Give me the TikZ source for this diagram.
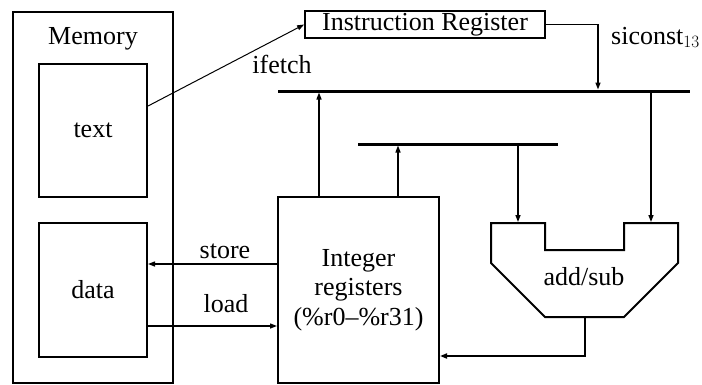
\documentclass[tikz,border=0pt]{standalone}
\usepackage{fontspec}
\setmainfont{Liberation Serif}
\usetikzlibrary{arrows.meta}
\begin{document}
\begin{tikzpicture}[x=1pt,y=-1pt,
  box/.style={draw, line width=2pt, inner sep=0pt},
  lbl/.style={font=\fontsize{26}{29.5}\selectfont, inner sep=0pt},
  bus/.style={line width=3pt},
  conn/.style={line width=1.3pt, -{Triangle[length=7pt,width=5pt]}},
]
\useasboundingbox (0,0) rectangle (702,384);
% memory
\node[box, minimum width=160pt, minimum height=371pt] (mem) at (93,197.5) {};
\node[lbl, anchor=base] (memlbl) at (93,44) {Memory};
\node[box, lbl, minimum width=108pt, minimum height=133pt] (textbox) at (93,130.5) {text};
\node[box, lbl, minimum width=108pt, minimum height=134pt] (databox) at (93,290) {data};
% registers
\node[box, lbl, align=center, minimum width=161pt, minimum height=186pt] (regs) at (358.5,290) {Integer\\registers\\(\%r0–\%r31)};
% instruction register
\node[box, line width=1.7pt, lbl, minimum width=240pt, minimum height=27pt] (ir) at (425,24.5) {Instruction Register};
\node[lbl, anchor=base] (ifetch) at (282,73) {ifetch};
\node[lbl, anchor=base west] (sic) at (611,44) {siconst$_{13}$};
% buses
\coordinate (b1w) at (278,91); \coordinate (b1e) at (690,91);
\coordinate (b2w) at (358,144); \coordinate (b2e) at (558,144);
\draw[bus] (b1w) -- (b1e);
\draw[bus] (b2w) -- (b2e);
\coordinate (sicin) at (598,91);
\coordinate (b1l) at (319,91);
\coordinate (b1r) at (651,91);
\coordinate (b2l) at (398,144);
\coordinate (b2r) at (518,144);
% ALU
\draw[line width=2pt, line join=miter] (491,223) -- (545,223) -- (545,250) -- (624,250) -- (624,223) -- (678,223) -- (678,263) -- (624,317) -- (545,317) -- (491,263) -- cycle;
\coordinate (aluL) at (518,223);
\coordinate (aluR) at (651,223);
\coordinate (aluO) at (584.5,317);
\coordinate (alubot) at (584.5,356);
\node[lbl, anchor=base] (alulbl) at (584,285) {add/sub};
% connectors
\draw[conn, line width=1pt] (textbox.24) -- (ir.west);
\draw[conn, shorten >=1.5pt] (ir.east) -| (sicin);
\draw[conn, shorten >=1.5pt] (regs.north -| b1l) -- (b1l);
\draw[conn, shorten >=1.5pt] (regs.north -| b2l) -- (b2l);
\draw[conn, shorten >=1pt] (b2r) -- (aluL);
\draw[conn, shorten >=1pt] (b1r) -- (aluR);
\draw[conn, line width=2pt, line join=miter] (aluO) -- (alubot) -- (regs.east |- alubot);
\draw[conn] ([yshift=26pt]regs.west) -- ([yshift=26pt]databox.east);
\draw[conn] ([yshift=-36pt]databox.east) -- ([yshift=-36pt]regs.west);
\node[lbl, anchor=base] (storelbl) at (225,258) {store};
\node[lbl, anchor=base] (loadlbl) at (226,312) {load};
\end{tikzpicture}
\end{document}
